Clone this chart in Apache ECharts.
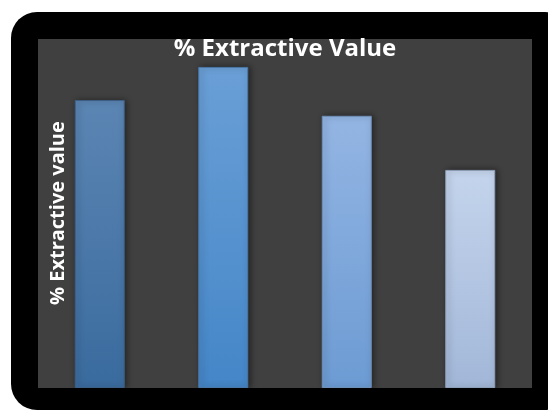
<!DOCTYPE html>
<html>
<head>
<meta charset="utf-8">
<script src="https://cdn.jsdelivr.net/npm/echarts@6/dist/echarts.min.js"></script>
<style>
  html, body { margin: 0; padding: 0; background: #ffffff; }
  #chart { width: 548px; height: 411px; }
</style>
</head>
<body>
<div id="chart"></div>
<script>
// Extractive value per sample (percent)
const categories = ['Sample 1', 'Sample 2', 'Sample 3', 'Sample 4'];
const extractiveValues = [16.5, 18.4, 15.6, 12.5];
const axisMax = 20;

// Gradient colours for each bar: [top, bottom]
const barColors = [
  ['#5b85b3', '#3a6b9e'],
  ['#6a9fd6', '#4486c8'],
  ['#93b5e3', '#6c9bd3'],
  ['#c4d4ec', '#a2b7d8']
];
const barBorders = ['#3d5f86', '#4a77a8', '#6e8fb8', '#8e9fb8'];

const chart = echarts.init(document.getElementById('chart'));

chart.setOption({
  backgroundColor: '#ffffff',
  animation: false,
  graphic: [
    {
      type: 'rect',
      z: -10,
      silent: true,
      shape: { x: 11, y: 12, width: 560, height: 398, r: 26 },
      style: { fill: '#000000' }
    },
    {
      type: 'text',
      z: 10,
      x: 285,
      y: 37,
      style: {
        text: '% Extractive Value',
        fill: '#ffffff',
        align: 'center',
        verticalAlign: 'top',
        font: 'bold 24px "Open Sans", sans-serif'
      }
    },
    {
      type: 'text',
      z: 10,
      rotation: Math.PI / 2,
      x: 48,
      y: 305,
      style: {
        text: '% Extractive value',
        fill: '#ffffff',
        font: 'bold 20px "Open Sans", sans-serif'
      }
    }
  ],
  grid: {
    left: 38,
    right: 16,
    top: 39,
    bottom: 23,
    show: true,
    backgroundColor: '#404040',
    borderWidth: 0
  },
  xAxis: {
    type: 'category',
    data: categories,
    axisLine: { show: false },
    axisTick: { show: false },
    axisLabel: { show: false }
  },
  yAxis: {
    type: 'value',
    min: 0,
    max: axisMax,
    axisLine: { show: false },
    axisTick: { show: false },
    axisLabel: { show: false },
    splitLine: { show: false }
  },
  series: [{
    type: 'bar',
    barWidth: 50,
    data: extractiveValues.map((v, i) => ({
      value: v,
      itemStyle: {
        color: new echarts.graphic.LinearGradient(0, 0, 0, 1, [
          { offset: 0, color: barColors[i][0] },
          { offset: 1, color: barColors[i][1] }
        ]),
        borderColor: barBorders[i],
        borderWidth: 1,
        shadowColor: 'rgba(0,0,0,0.45)',
        shadowBlur: 6,
        shadowOffsetX: 2,
        shadowOffsetY: 0
      }
    }))
  }]
});
</script>
</body>
</html>
